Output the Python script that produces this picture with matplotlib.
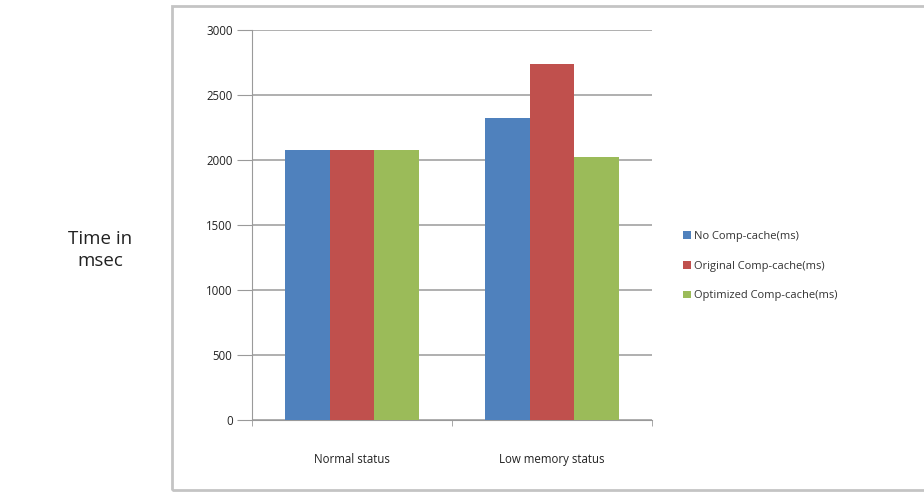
import matplotlib
matplotlib.use("Agg")
import matplotlib.pyplot as plt
import numpy as np
from matplotlib.patches import Rectangle, Patch

categories = ["Normal status", "Low memory status"]
series_names = ["No Comp-cache(ms)", "Original Comp-cache(ms)", "Optimized Comp-cache(ms)"]
no_cache = [2075, 2320]
original_cache = [2075, 2740]
optimized_cache = [2075, 2020]
y_ticks = [0, 500, 1000, 1500, 2000, 2500, 3000]

colors = ["#4F81BD", "#C0504D", "#9BBB59"]
grid_gray = "#9a9a9a"

plt.rcParams["font.family"] = ["Open Sans", "DejaVu Sans"]

fig = plt.figure(figsize=(9.24, 4.93), dpi=100)
# outer chart frame (runs off the right edge of the image)
fig.patches.append(Rectangle((172 / 924, 1 - 490 / 493), (940 - 172) / 924, (490 - 6) / 493,
                             transform=fig.transFigure, fill=False, edgecolor="#c4c4c4",
                             linewidth=2.0, clip_on=False))

ax = fig.add_axes([252 / 924, 1 - 420 / 493, 400 / 924, 390 / 493])

x = np.arange(len(categories))
w = 0.2235
for i, (vals, c, name) in enumerate(zip([no_cache, original_cache, optimized_cache], colors, series_names)):
    ax.bar(x + (i - 1) * w, vals, width=w, color=c, label=name, zorder=3)

ax.set_xlim(-0.5, 1.5)
ax.set_ylim(0, 3000)
ax.set_yticks(y_ticks)
ax.set_yticklabels([str(v) for v in y_ticks], fontsize=8.3, color="#222222")
ax.yaxis.grid(True, color=grid_gray, linewidth=1.1, zorder=0)
ax.tick_params(axis="y", length=11, color=grid_gray, pad=3)

ax.set_xticks(x)
ax.set_xticklabels(categories, fontsize=8.3, color="#222222")
ax.tick_params(axis="x", which="major", length=0, pad=24)
ax.set_xticks([-0.5, 0.5, 1.5], minor=True)
ax.tick_params(axis="x", which="minor", length=4, color=grid_gray)

for s in ["top", "right"]:
    ax.spines[s].set_visible(False)
for s in ["left", "bottom"]:
    ax.spines[s].set_color(grid_gray)

fig.text(100 / 924, 1 - 250 / 493, "Time in\nmsec", ha="center", va="center", fontsize=13.5,
         color="#222222", linespacing=1.35)

handles = [Patch(facecolor=c, edgecolor="none") for c in colors]
fig.legend(handles, series_names, loc="center left", bbox_to_anchor=(673 / 924, 1 - 266 / 493),
           frameon=False, fontsize=8.0, handlelength=0.7, handleheight=0.7, handletextpad=0.3,
           labelspacing=1.7, labelcolor="#333333")

fig.savefig("out.png", dpi=100)
